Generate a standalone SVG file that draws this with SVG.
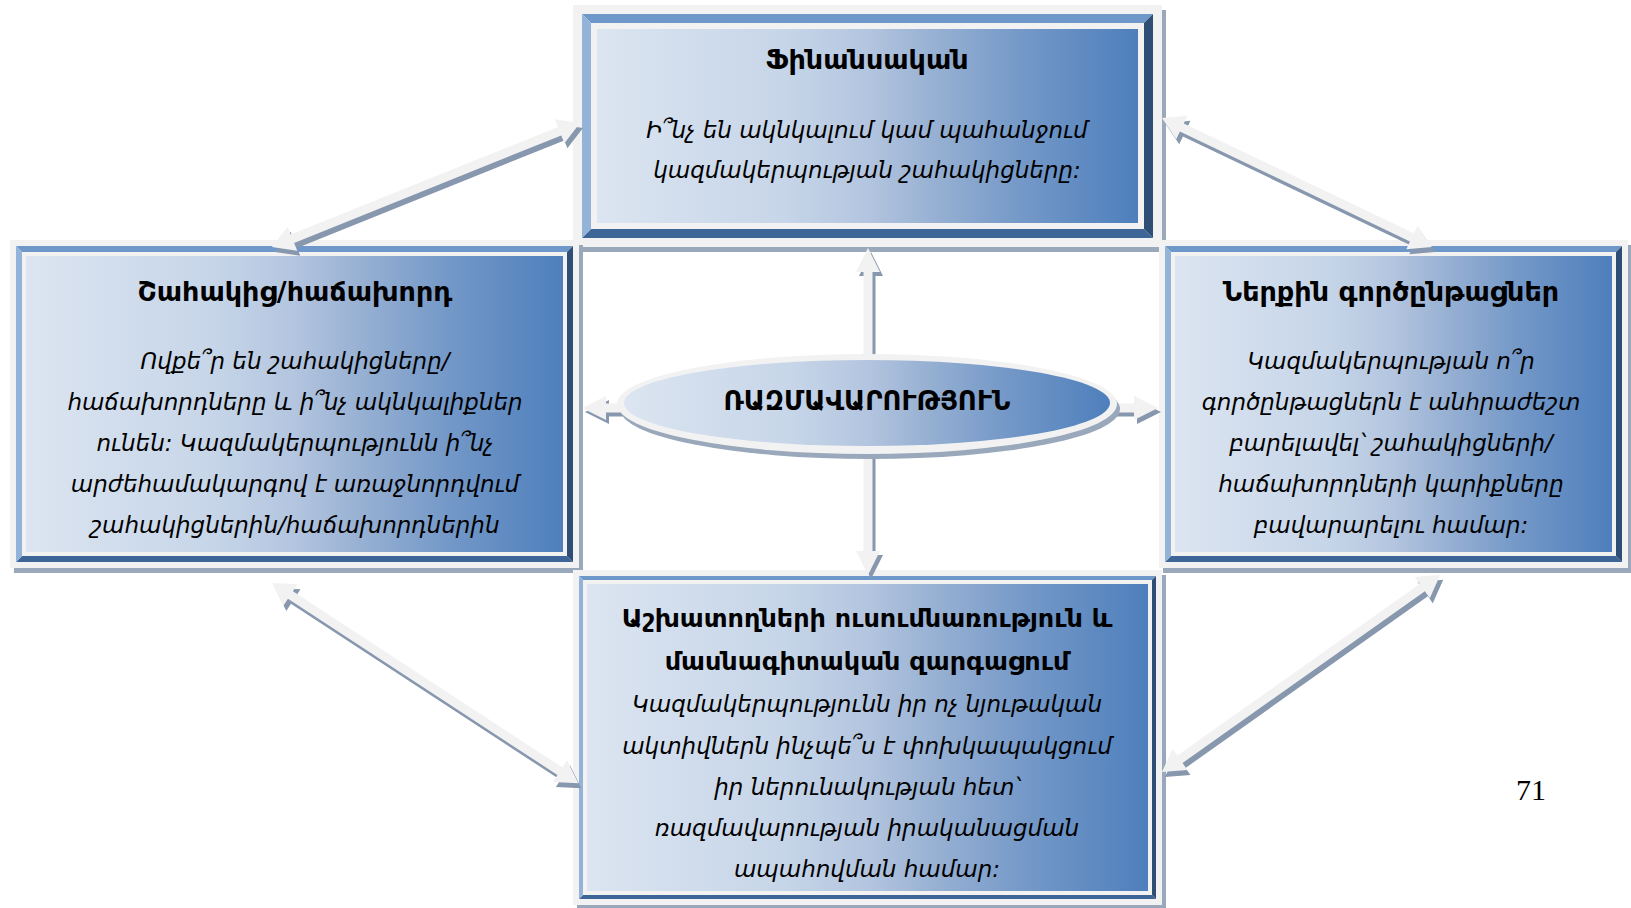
<svg xmlns="http://www.w3.org/2000/svg" width="1631" height="908" viewBox="0 0 1631 908">
<defs>
<linearGradient id="face" x1="0" y1="0" x2="1" y2="0">
<stop offset="0" stop-color="#dce5f1"/>
<stop offset="0.35" stop-color="#c6d5e8"/>
<stop offset="0.5" stop-color="#b3c5df"/>
<stop offset="0.62" stop-color="#98b1d3"/>
<stop offset="0.78" stop-color="#7599c8"/>
<stop offset="1" stop-color="#4e7fbc"/>
</linearGradient>
<style>
.rim{fill:#f2f2f2}
.shd{fill:#9aa8bc}
.bt{fill:#6f98ca}
.bl{fill:#94b3d9}
.br{fill:#2f4e76}
.bb{fill:#3d6597}
.face{fill:url(#face)}
.arr{fill:#f2f2f2}
.ashd{fill:#8797ae}
.title{font-family:"DejaVu Sans",sans-serif;font-weight:bold;font-size:27px;fill:#000;text-anchor:middle}
.title.sm{font-size:25.5px}
.title.mid{font-size:26px}
.body{font-family:"DejaVu Sans",sans-serif;font-style:italic;font-size:23px;fill:#000;text-anchor:middle}
.num{font-family:"Liberation Serif",serif;font-size:30px;fill:#000;text-anchor:middle}
</style>
</defs>
<rect width="1631" height="908" fill="#ffffff"/>

<g id="node-financial">
<rect class="shd" x="577" y="10" width="589" height="242"/>
<rect class="rim" x="573" y="5" width="589" height="242"/>
<polygon class="bt" points="582,14 1153,14 1144,23 591,23"/>
<polygon class="bb" points="582,238 1153,238 1144,229 591,229"/>
<polygon class="bl" points="582,14 591,23 591,229 582,238"/>
<polygon class="br" points="1153,14 1153,238 1144,229 1144,23"/>
<rect class="face" x="597" y="29" width="541" height="194"/>
<text class="title" x="867" y="69">Ֆինանսական</text>
<text class="body" x="867" y="138">Ի՞նչ են ակնկալում կամ պահանջում</text>
<text class="body" x="867" y="178">կազմակերպության շահակիցները:</text>
</g>

<g id="node-customer">
<rect class="shd" x="14" y="245" width="569" height="328"/>
<rect class="rim" x="10" y="240" width="569" height="328"/>
<polygon class="bt" points="16,246 573,246 567,252 22,252"/>
<polygon class="bb" points="16,562 573,562 567,556 22,556"/>
<polygon class="bl" points="16,246 22,252 22,556 16,562"/>
<polygon class="br" points="573,246 573,562 567,556 567,252"/>
<rect class="face" x="26" y="256" width="537" height="296"/>
<text class="title" x="295" y="301">Շահակից/հաճախորդ</text>
<text class="body" x="295" y="369">Ովքե՞ր են շահակիցները/</text>
<text class="body" x="295" y="410">հաճախորդները և ի՞նչ ակնկալիքներ</text>
<text class="body" x="295" y="451">ունեն: Կազմակերպությունն ի՞նչ</text>
<text class="body" x="295" y="492">արժեհամակարգով է առաջնորդվում</text>
<text class="body" x="295" y="533">շահակիցներին/հաճախորդներին</text>
</g>

<g id="node-internal">
<rect class="shd" x="1163" y="245" width="469" height="328"/>
<rect class="rim" x="1159" y="240" width="469" height="328"/>
<polygon class="bt" points="1165,246 1622,246 1616,252 1171,252"/>
<polygon class="bb" points="1165,562 1622,562 1616,556 1171,556"/>
<polygon class="bl" points="1165,246 1171,252 1171,556 1165,562"/>
<polygon class="br" points="1622,246 1622,562 1616,556 1616,252"/>
<rect class="face" x="1175" y="256" width="437" height="296"/>
<text class="title" x="1391" y="301">Ներքին գործընթացներ</text>
<text class="body" x="1391" y="369">Կազմակերպության ո՞ր</text>
<text class="body" x="1391" y="410">գործընթացներն է անհրաժեշտ</text>
<text class="body" x="1391" y="451">բարելավել՝ շահակիցների/</text>
<text class="body" x="1391" y="492">հաճախորդների կարիքները</text>
<text class="body" x="1391" y="533">բավարարելու համար:</text>
</g>

<g id="node-learning">
<rect class="shd" x="577" y="575" width="589" height="335"/>
<rect class="rim" x="573" y="570" width="589" height="335"/>
<polygon class="bt" points="579,576 1156,576 1152,580 583,580"/>
<polygon class="bb" points="579,899 1156,899 1152,895 583,895"/>
<polygon class="bl" points="579,576 583,580 583,895 579,899"/>
<polygon class="br" points="1156,576 1156,899 1152,895 1152,580"/>
<rect class="face" x="587" y="584" width="561" height="307"/>
<text class="title sm" x="867" y="627">Աշխատողների ուսումնառություն և</text>
<text class="title sm" x="867" y="670">մասնագիտական զարգացում</text>
<text class="body" x="867" y="712">Կազմակերպությունն իր ոչ նյութական</text>
<text class="body" x="867" y="754">ակտիվներն ինչպե՞ս է փոխկապակցում</text>
<text class="body" x="867" y="795">իր ներունակության հետ՝</text>
<text class="body" x="867" y="836">ռազմավարության իրականացման</text>
<text class="body" x="867" y="877">ապահովման համար:</text>
</g>

<g id="connectors">
<polygon class="ashd" transform="translate(275,252) rotate(-21.93)" points="0,0 22,-13 22,-4.5 310,-4.5 310,-13 332,0 310,13 310,4.5 22,4.5 22,13"/>
<polygon class="arr" transform="translate(272,247) rotate(-21.93)" points="0,0 22,-13 22,-4.5 310,-4.5 310,-13 332,0 310,13 310,4.5 22,4.5 22,13"/>
<polygon class="ashd" transform="translate(1165,123) rotate(25.54)" points="0,0 22,-13 22,-4.5 277,-4.5 277,-13 299,0 277,13 277,4.5 22,4.5 22,13"/>
<polygon class="arr" transform="translate(1162,118) rotate(25.54)" points="0,0 22,-13 22,-4.5 277,-4.5 277,-13 299,0 277,13 277,4.5 22,4.5 22,13"/>
<polygon class="ashd" transform="translate(275,588) rotate(33.17)" points="0,0 22,-13 22,-4.5 344,-4.5 344,-13 366,0 344,13 344,4.5 22,4.5 22,13"/>
<polygon class="arr" transform="translate(272,583) rotate(33.17)" points="0,0 22,-13 22,-4.5 344,-4.5 344,-13 366,0 344,13 344,4.5 22,4.5 22,13"/>
<polygon class="ashd" transform="translate(1165,777) rotate(-35.32)" points="0,0 22,-13 22,-4.5 319,-4.5 319,-13 341,0 319,13 319,4.5 22,4.5 22,13"/>
<polygon class="arr" transform="translate(1162,772) rotate(-35.32)" points="0,0 22,-13 22,-4.5 319,-4.5 319,-13 341,0 319,13 319,4.5 22,4.5 22,13"/>
<polygon class="ashd" transform="translate(3,4)" points="863.5,362 863.5,272 856,272 868,248 880,272 872.5,272 872.5,362"/>
<polygon class="arr" points="863.5,362 863.5,272 856,272 868,248 880,272 872.5,272 872.5,362"/>
<polygon class="ashd" transform="translate(3,4)" points="863.5,445 863.5,551 856,551 868,575 880,551 872.5,551 872.5,445"/>
<polygon class="arr" points="863.5,445 863.5,551 856,551 868,575 880,551 872.5,551 872.5,445"/>
<polygon class="ashd" transform="translate(3,4)" points="630,403.5 606,403.5 606,396 582,408 606,420 606,412.5 630,412.5"/>
<polygon class="arr" points="630,403.5 606,403.5 606,396 582,408 606,420 606,412.5 630,412.5"/>
<polygon class="ashd" transform="translate(3,4)" points="1105,403.5 1134,403.5 1134,396 1158,408 1134,420 1134,412.5 1105,412.5"/>
<polygon class="arr" points="1105,403.5 1134,403.5 1134,396 1158,408 1134,420 1134,412.5 1105,412.5"/>
</g>

<g id="node-strategy">
<ellipse class="shd" cx="870" cy="409" rx="250" ry="50"/>
<ellipse class="rim" cx="867" cy="404" rx="250" ry="50"/>
<ellipse class="face" cx="867" cy="403" rx="243" ry="43"/>
<text class="title mid" x="867" y="410">ՌԱԶՄԱՎԱՐՈՒԹՅՈՒՆ</text>
</g>

<text class="num" x="1531" y="800">71</text>
</svg>
